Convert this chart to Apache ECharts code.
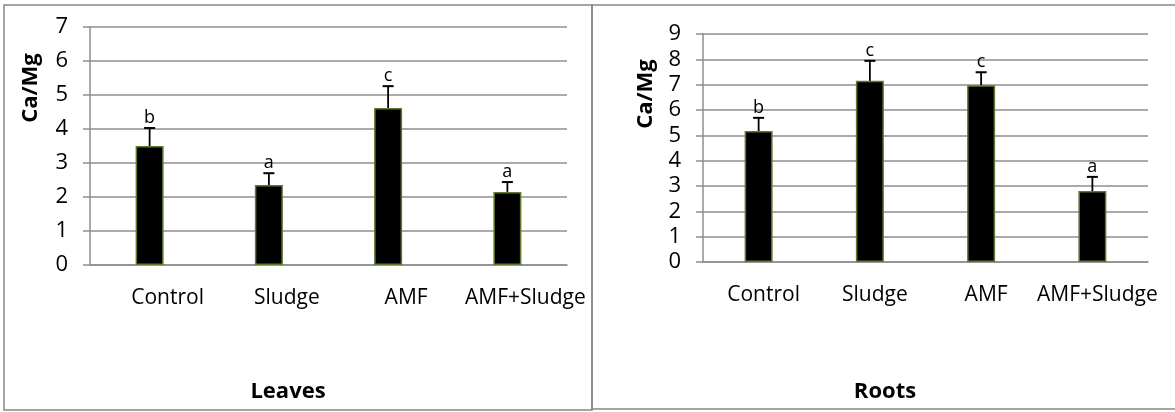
<!DOCTYPE html>
<html><head><meta charset="utf-8">
<script src="https://cdn.jsdelivr.net/npm/echarts@6/dist/echarts.min.js"></script>
<style>html,body{margin:0;padding:0;background:#fff;}#c{width:1175px;height:412px;}</style>
</head><body><div id="c"></div>
<script>
const categories = ['Control', 'Sludge', 'AMF', 'AMF+Sludge'];
const leavesMean = [3.5, 2.35, 4.62, 2.15];
const leavesErr = [0.53, 0.35, 0.64, 0.29];
const leavesLetters = ['b', 'a', 'c', 'a'];
const rootsMean = [5.17, 7.15, 6.98, 2.8];
const rootsErr = [0.52, 0.79, 0.51, 0.56];
const rootsLetters = ['b', 'c', 'c', 'a'];
const leavesTicks = [0, 7, 1];
const rootsTicks = [0, 9, 1];

const FONT = '"Open Sans", "Liberation Sans", sans-serif';
const gridColor = '#8e8e8e';

function errSeries(idx, means, errs, letters) {
  return {
    type: 'custom', xAxisIndex: idx, yAxisIndex: idx, z: 5,
    data: means.map((m, i) => [i, m, m + errs[i]]),
    renderItem: function (params, api) {
      const p0 = api.coord([api.value(0), api.value(1)]);
      const p1 = api.coord([api.value(0), api.value(2)]);
      return {
        type: 'group', children: [
          { type: 'line', shape: { x1: p0[0], y1: p0[1], x2: p1[0], y2: p1[1] }, style: { stroke: '#000', lineWidth: 1.8 } },
          { type: 'line', shape: { x1: p1[0] - 5.5, y1: p1[1], x2: p1[0] + 5.5, y2: p1[1] }, style: { stroke: '#000', lineWidth: 2 } },
          { type: 'text', x: p1[0], y: p1[1] - 1, style: { text: letters[params.dataIndex], textAlign: 'center', textVerticalAlign: 'bottom', font: '18px ' + FONT, fill: '#000' } }
        ]
      };
    }
  };
}

function xAx(idx, shift) {
  return {
    type: 'category', gridIndex: idx, data: categories,
    axisLine: { lineStyle: { color: gridColor, width: 1.5 } },
    axisTick: { show: false },
    axisLabel: { color: '#000', fontSize: 21, fontFamily: FONT, margin: 23, interval: 0, padding: [0, 0, 0, shift * 2] }
  };
}
function yAx(idx, ticks) {
  return {
    type: 'value', gridIndex: idx, min: ticks[0], max: ticks[1], interval: ticks[2],
    axisLine: { show: true, lineStyle: { color: gridColor, width: 1.5 } },
    axisTick: { show: true, length: 7, lineStyle: { color: gridColor, width: 1.5 } },
    splitLine: { lineStyle: { color: gridColor, width: 1.5 } },
    axisLabel: { color: '#000', fontSize: 22, fontFamily: FONT, margin: 22 }
  };
}
function barS(idx, means) {
  return {
    type: 'bar', xAxisIndex: idx, yAxisIndex: idx, data: means, barWidth: 28,
    itemStyle: { color: '#000', borderColor: '#5f7a2e', borderWidth: 1.5 }
  };
}

const chart = echarts.init(document.getElementById('c'));
chart.setOption({
  animation: false,
  grid: [
    { left: 90, right: 608, top: 27, bottom: 147 },
    { left: 703, right: 27, top: 34, bottom: 150 }
  ],
  xAxis: [xAx(0, 18), xAx(1, 5)],
  yAxis: [yAx(0, leavesTicks), yAx(1, rootsTicks)],
  series: [
    barS(0, leavesMean), errSeries(0, leavesMean, leavesErr, leavesLetters),
    barS(1, rootsMean), errSeries(1, rootsMean, rootsErr, rootsLetters)
  ],
  graphic: [
    { type: 'rect', shape: { x: 4, y: 5, width: 588, height: 405 }, style: { fill: 'none', stroke: '#888', lineWidth: 1.5 }, z: -1 },
    { type: 'rect', shape: { x: 592, y: 5, width: 600, height: 404 }, style: { fill: 'none', stroke: '#888', lineWidth: 1.5 }, z: -1 },
    { type: 'text', x: 31, y: 88, rotation: Math.PI / 2, style: { text: 'Ca/Mg', textAlign: 'center', textVerticalAlign: 'middle', font: 'bold 22px ' + FONT, fill: '#000' } },
    { type: 'text', x: 646, y: 94, rotation: Math.PI / 2, style: { text: 'Ca/Mg', textAlign: 'center', textVerticalAlign: 'middle', font: 'bold 22px ' + FONT, fill: '#000' } },
    { type: 'text', x: 288, y: 392, style: { text: 'Leaves', textAlign: 'center', textVerticalAlign: 'middle', font: 'bold 22px ' + FONT, fill: '#000' } },
    { type: 'text', x: 885, y: 392, style: { text: 'Roots', textAlign: 'center', textVerticalAlign: 'middle', font: 'bold 22px ' + FONT, fill: '#000' } }
  ]
});
</script></body></html>
